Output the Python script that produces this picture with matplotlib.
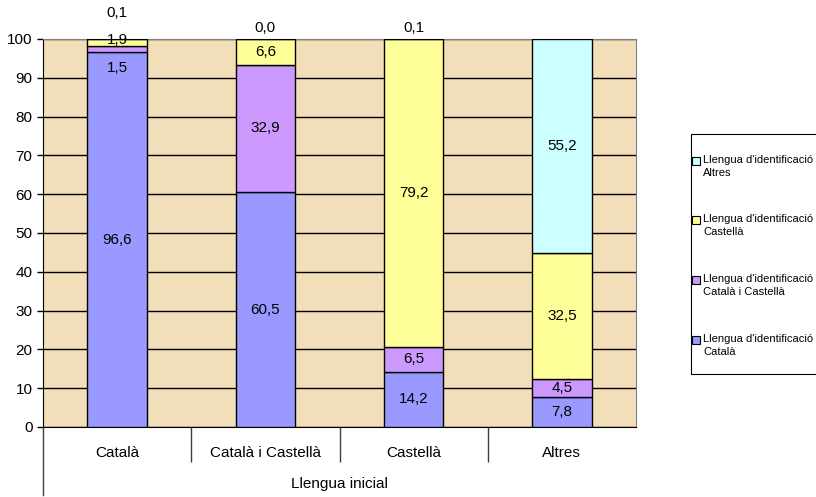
import numpy as np
import matplotlib
matplotlib.use('Agg')
from matplotlib import pyplot as plt
from matplotlib.patches import Rectangle

plt.rcParams['font.family'] = ['Liberation Sans', 'DejaVu Sans']

categories = ['Català', 'Català i Castellà', 'Castellà', 'Altres']
series = ["Llengua d'identificació\nCatalà",
          "Llengua d'identificació\nCatalà i Castellà",
          "Llengua d'identificació\nCastellà",
          "Llengua d'identificació\nAltres"]
catala = [96.6, 60.5, 14.2, 7.8]
catala_castella = [1.5, 32.9, 6.5, 4.5]
castella = [1.9, 6.6, 79.2, 32.5]
altres = [0.1, 0.0, 0.1, 55.2]
colors = ['#9999FF', '#CC99FF', '#FFFF99', '#CCFFFF']

values = [catala, catala_castella, castella, altres]

W, H = 816, 497
fig = plt.figure(figsize=(8.16, 4.97), dpi=100)
ax = fig.add_axes([43/W, 1-427/H, (636-43)/W, (427-39)/H])
ax.set_facecolor('#F2DEB8')

x = np.arange(len(categories))
bottom = np.zeros(len(categories))
for vals, c in zip(values, colors):
    ax.bar(x, vals, 0.4, bottom=bottom, color=c, edgecolor='black', linewidth=1, zorder=3)
    bottom += np.array(vals)

# value labels, centred in each segment; small segments moved apart
for j in range(len(categories)):
    base = 0
    for i, vals in enumerate(values):
        v = vals[j]
        ypos = base + v / 2
        if v < 3:
            if i == 3:
                ypos = 106.7 if j == 0 else 102.8
            elif j == 0 and i == 1:
                ypos = 92.5
            elif j == 0 and i == 2:
                ypos = 99.7
        ax.text(j, ypos, f'{v:.1f}'.replace('.', ','), ha='center', va='center',
                fontsize=11, zorder=5, clip_on=False)
        base += v

ax.set_xlim(-0.5, 3.5)
ax.set_ylim(0, 100)
ax.set_yticks(np.arange(0, 101, 10))
ax.yaxis.grid(True, color='black', linewidth=1)
ax.set_axisbelow(True)
ax.tick_params(axis='y', labelsize=11, length=4, direction='out', width=1)

ax.set_xticks(x)
ax.set_xticklabels(categories, fontsize=11)
ax.tick_params(axis='x', length=0, pad=14)
ax.set_xticks([0.5, 1.5, 2.5], minor=True)
ax.tick_params(axis='x', which='minor', length=25, width=1, color='#404040')

for s in ['top', 'right']:
    ax.spines[s].set_color('#808080')
ax.spines['left'].set_color('black')
ax.spines['bottom'].set_color('black')

# outer category line
ax.plot([-0.5, -0.5], [0, -68/388], transform=ax.get_xaxis_transform(),
        color='#404040', linewidth=1, clip_on=False)
ax.text(1.5, -57/388, 'Llengua inicial', transform=ax.get_xaxis_transform(),
        ha='center', va='center', fontsize=11)

# legend box, drawn by hand (runs off the right edge)
fig.patches.append(Rectangle((691/W, 1-374/H), 140/W, 240/H, transform=fig.transFigure,
                             facecolor='white', edgecolor='black', linewidth=0.8))
rows = [161, 220, 280, 340]
for yy, lab, c in zip(rows, series[::-1], colors[::-1]):
    fig.patches.append(Rectangle((692/W, 1-(yy+4)/H), 8/W, 8/H, transform=fig.transFigure,
                                 facecolor=c, edgecolor='black', linewidth=0.8))
    fig.text(703/W, 1-(yy-6)/H, lab, fontsize=8, va='top', ha='left', linespacing=1.35)

plt.savefig('out.png', dpi=100)
